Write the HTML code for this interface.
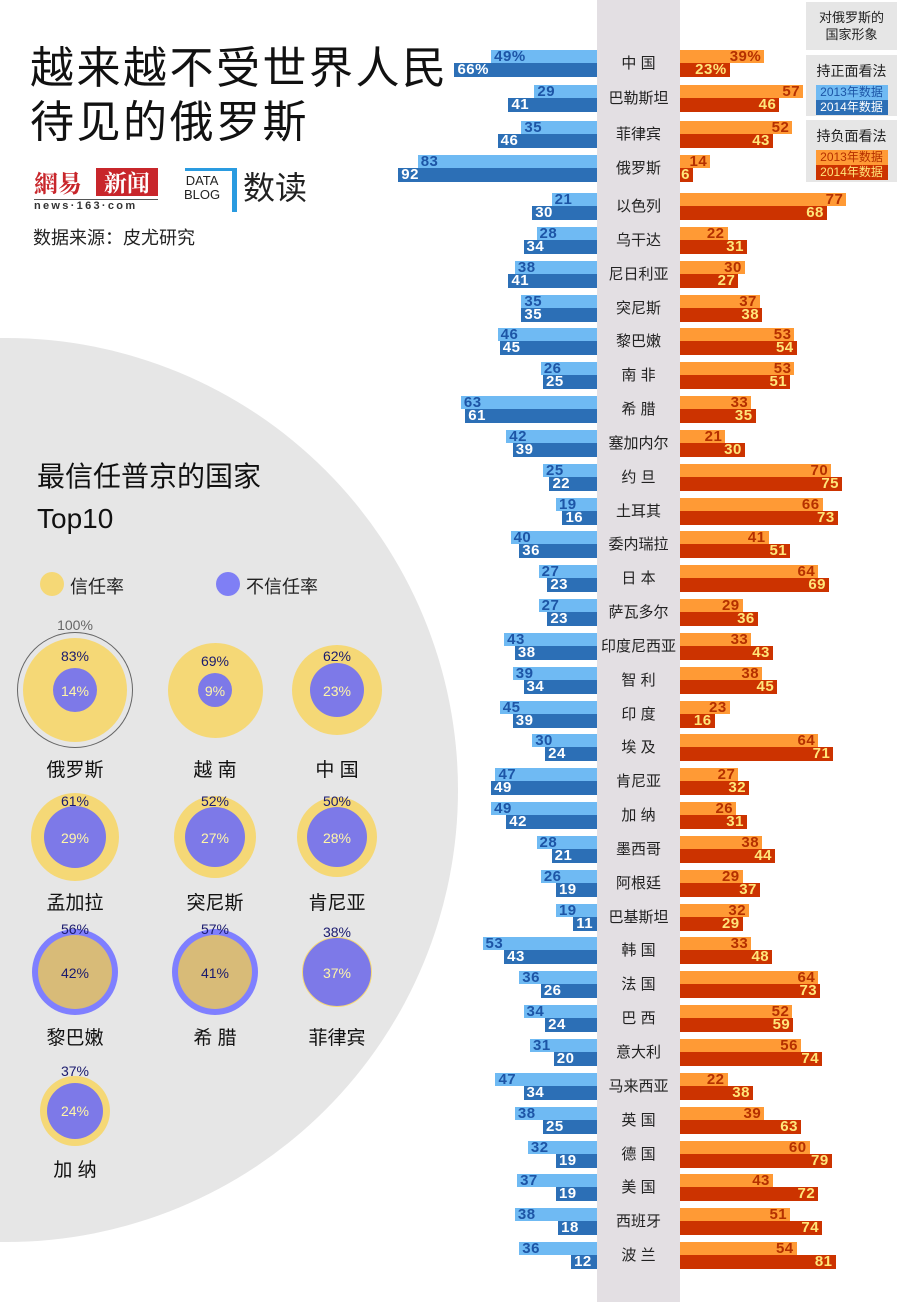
<!DOCTYPE html>
<html><head><meta charset="utf-8">
<style>
*{margin:0;padding:0;box-sizing:border-box}
body{width:908px;height:1302px;position:relative;background:#fff;overflow:hidden;font-family:"Liberation Sans","Noto Sans CJK SC",sans-serif}
.abs{position:absolute}
#bigc{position:absolute;left:-446px;top:338px;width:904px;height:904px;border-radius:50%;background:#e6e6e6}
#col{position:absolute;left:597px;top:0;width:83px;height:1302px;background:#e3dfe3}
.r{position:absolute;left:0;width:908px;height:27px}
.r i{position:absolute;font-style:normal;font-weight:bold;font-size:15px;line-height:14px;letter-spacing:0.5px;white-space:nowrap;font-family:"Liberation Sans",sans-serif}
.la{left:calc(597px - var(--v)*2.16px);width:calc(var(--v)*2.16px);top:0;height:13px;background:#6fbaf3;color:#1d55a6;padding-left:3px}
.lb{left:calc(597px - var(--v)*2.16px);width:calc(var(--v)*2.16px);top:13px;height:14px;background:#2c6fb6;color:#fff;padding-left:3px}
.ra{left:680px;width:calc(var(--v)*2.16px);top:0;height:13px;background:#ff9a35;color:#b53000;text-align:right;padding-right:3px}
.rb{left:680px;width:calc(var(--v)*2.16px);top:13px;height:14px;background:#cc3300;color:#ffe67a;text-align:right;padding-right:3px}
.rc{left:680px;width:calc(var(--v)*1.92px);top:13px;height:14px;background:#cc3300;color:#ffe67a;text-align:right;padding-right:3px}
.r b{position:absolute;left:597px;width:83px;top:0;height:27px;line-height:27px;text-align:center;font-weight:normal;font-size:15px;color:#222;font-family:"Liberation Sans","Noto Sans CJK SC",sans-serif}
.box{position:absolute;left:806px;width:91px;background:#e6e6e6;text-align:center;font-size:13px;color:#222}
.chip{display:block;margin:0 auto;width:72px;font-size:12px;line-height:15px}
.c{position:absolute;border-radius:50%}
.pt{position:absolute;font-size:14px;width:80px;text-align:center;line-height:14px}
.nm{position:absolute;font-size:19px;width:110px;text-align:center;color:#111}
</style></head><body>
<div id="bigc"></div>
<div id="col"></div>

<div class="abs" style="left:30px;top:42px;font-size:44px;line-height:54px;color:#111;letter-spacing:2.5px">越来越不受世界人民<br>待见的俄罗斯</div>

<div class="abs" style="left:34px;top:168px;font-size:24px;line-height:28px;color:#c8262b;font-weight:bold;font-family:'Noto Serif CJK SC',serif">網易</div>
<div class="abs" style="left:96px;top:168px;width:62px;height:28px;background:#c8262b;color:#fff;font-size:23px;line-height:28px;text-align:center;font-weight:bold;font-family:'Noto Serif CJK SC',serif">新闻</div>
<div class="abs" style="left:34px;top:199px;width:124px;border-top:1px solid #555;font-size:11px;font-weight:bold;letter-spacing:2.3px;color:#333">news·163·com</div>
<div class="abs" style="left:184px;top:174px;font-size:13px;line-height:14px;color:#222;text-align:center">DATA<br>BLOG</div>
<div class="abs" style="left:185px;top:168px;width:50px;height:3px;background:#2a9be0"></div>
<div class="abs" style="left:232px;top:168px;width:5px;height:44px;background:#2a9be0"></div>
<div class="abs" style="left:243px;top:168px;font-size:32px;line-height:40px;color:#222">数读</div>
<div class="abs" style="left:33px;top:224px;font-size:18px;color:#222">数据来源：皮尤研究</div>

<div class="abs" style="left:37px;top:456px;font-size:28px;line-height:42px;color:#111">最信任普京的国家<br><span style="font-family:'Liberation Sans',sans-serif">Top10</span></div>
<div class="c" style="left:40px;top:572px;width:24px;height:24px;background:#f5d876"></div>
<div class="abs" style="left:70px;top:573px;font-size:18px;color:#222">信任率</div>
<div class="c" style="left:216px;top:572px;width:24px;height:24px;background:#7f7ff5"></div>
<div class="abs" style="left:246px;top:573px;font-size:18px;color:#222">不信任率</div>

<div class="c" style="left:17px;top:632px;width:116px;height:116px;border:1px solid #666"></div>
<div class="pt" style="left:35px;top:618px;color:#666">100%</div>
<div class="c" style="left:23px;top:638px;width:104px;height:104px;background:#f5d876"></div>
<div class="c" style="left:53px;top:668px;width:44px;height:44px;background:#7d79e8"></div>
<div class="pt" style="left:35px;top:649px;color:#1a1a6e">83%</div>
<div class="pt" style="left:35px;top:684px;color:#fff6a8">14%</div>
<div class="nm" style="left:20px;top:755px">俄罗斯</div>

<div class="c" style="left:168px;top:643px;width:95px;height:95px;background:#f5d876"></div>
<div class="c" style="left:198px;top:673px;width:34px;height:34px;background:#7d79e8"></div>
<div class="pt" style="left:175px;top:654px;color:#1a1a6e">69%</div>
<div class="pt" style="left:175px;top:684px;color:#fff6a8">9%</div>
<div class="nm" style="left:160px;top:755px">越 南</div>

<div class="c" style="left:292px;top:645px;width:90px;height:90px;background:#f5d876"></div>
<div class="c" style="left:310px;top:663px;width:54px;height:54px;background:#7d79e8"></div>
<div class="pt" style="left:297px;top:649px;color:#1a1a6e">62%</div>
<div class="pt" style="left:297px;top:684px;color:#fff6a8">23%</div>
<div class="nm" style="left:282px;top:755px">中 国</div>

<div class="c" style="left:31px;top:793px;width:88px;height:88px;background:#f5d876"></div>
<div class="c" style="left:44px;top:806px;width:62px;height:62px;background:#7d79e8"></div>
<div class="pt" style="left:35px;top:794px;color:#1a1a6e">61%</div>
<div class="pt" style="left:35px;top:831px;color:#fff6a8">29%</div>
<div class="nm" style="left:20px;top:888px">孟加拉</div>

<div class="c" style="left:174px;top:796px;width:82px;height:82px;background:#f5d876"></div>
<div class="c" style="left:185px;top:807px;width:60px;height:60px;background:#7d79e8"></div>
<div class="pt" style="left:175px;top:794px;color:#1a1a6e">52%</div>
<div class="pt" style="left:175px;top:831px;color:#fff6a8">27%</div>
<div class="nm" style="left:160px;top:888px">突尼斯</div>

<div class="c" style="left:297px;top:797px;width:80px;height:80px;background:#f5d876"></div>
<div class="c" style="left:307px;top:807px;width:60px;height:60px;background:#7d79e8"></div>
<div class="pt" style="left:297px;top:794px;color:#1a1a6e">50%</div>
<div class="pt" style="left:297px;top:831px;color:#fff6a8">28%</div>
<div class="nm" style="left:282px;top:888px">肯尼亚</div>

<div class="c" style="left:32px;top:929px;width:86px;height:86px;background:#7f7fff"></div>
<div class="c" style="left:38px;top:935px;width:74px;height:74px;background:#d8bb78"></div>
<div class="pt" style="left:35px;top:922px;color:#1a1a6e">56%</div>
<div class="pt" style="left:35px;top:966px;color:#1a1a6e">42%</div>
<div class="nm" style="left:20px;top:1023px">黎巴嫩</div>

<div class="c" style="left:172px;top:929px;width:86px;height:86px;background:#7f7fff"></div>
<div class="c" style="left:178px;top:935px;width:74px;height:74px;background:#d8bb78"></div>
<div class="pt" style="left:175px;top:922px;color:#1a1a6e">57%</div>
<div class="pt" style="left:175px;top:966px;color:#1a1a6e">41%</div>
<div class="nm" style="left:160px;top:1023px">希 腊</div>

<div class="c" style="left:302px;top:937px;width:70px;height:70px;background:#7d79e8;border:1px solid #f5d876"></div>
<div class="pt" style="left:297px;top:925px;color:#1a1a6e">38%</div>
<div class="pt" style="left:297px;top:966px;color:#fff6a8">37%</div>
<div class="nm" style="left:282px;top:1023px">菲律宾</div>

<div class="c" style="left:40px;top:1076px;width:70px;height:70px;background:#f5d876"></div>
<div class="c" style="left:47px;top:1083px;width:56px;height:56px;background:#7d79e8"></div>
<div class="pt" style="left:35px;top:1064px;color:#1a1a6e">37%</div>
<div class="pt" style="left:35px;top:1104px;color:#fff6a8">24%</div>
<div class="nm" style="left:20px;top:1155px">加 纳</div>

<div class="box" style="top:2px;height:48px;padding-top:7px;line-height:17px">对俄罗斯的<br>国家形象</div>
<div class="box" style="top:55px;height:61px;padding-top:6px"><div style="font-size:14px;line-height:20px">持正面看法</div><span class="chip" style="background:#6fbaf3;color:#1d55a6;margin-top:4px">2013年数据</span><span class="chip" style="background:#2c6fb6;color:#fff">2014年数据</span></div>
<div class="box" style="top:120px;height:62px;padding-top:6px"><div style="font-size:14px;line-height:20px">持负面看法</div><span class="chip" style="background:#ff9a35;color:#b53000;margin-top:4px">2013年数据</span><span class="chip" style="background:#cc3300;color:#ffe67a">2014年数据</span></div>

<div class="r" style="top:50px"><i class="la" style="--v:49">49%</i><i class="lb" style="--v:66">66%</i><b>中 国</b><i class="ra" style="--v:39">39%</i><i class="rb" style="--v:23">23%</i></div>
<div class="r" style="top:85px"><i class="la" style="--v:29">29</i><i class="lb" style="--v:41">41</i><b>巴勒斯坦</b><i class="ra" style="--v:57">57</i><i class="rb" style="--v:46">46</i></div>
<div class="r" style="top:121px"><i class="la" style="--v:35">35</i><i class="lb" style="--v:46">46</i><b>菲律宾</b><i class="ra" style="--v:52">52</i><i class="rb" style="--v:43">43</i></div>
<div class="r" style="top:155px"><i class="la" style="--v:83">83</i><i class="lb" style="--v:92">92</i><b>俄罗斯</b><i class="ra" style="--v:14">14</i><i class="rb" style="--v:6">6</i></div>
<div class="r" style="top:193px"><i class="la" style="--v:21">21</i><i class="lb" style="--v:30">30</i><b>以色列</b><i class="ra" style="--v:77">77</i><i class="rb" style="--v:68">68</i></div>
<div class="r" style="top:227px"><i class="la" style="--v:28">28</i><i class="lb" style="--v:34">34</i><b>乌干达</b><i class="ra" style="--v:22">22</i><i class="rb" style="--v:31">31</i></div>
<div class="r" style="top:261px"><i class="la" style="--v:38">38</i><i class="lb" style="--v:41">41</i><b>尼日利亚</b><i class="ra" style="--v:30">30</i><i class="rb" style="--v:27">27</i></div>
<div class="r" style="top:295px"><i class="la" style="--v:35">35</i><i class="lb" style="--v:35">35</i><b>突尼斯</b><i class="ra" style="--v:37">37</i><i class="rb" style="--v:38">38</i></div>
<div class="r" style="top:328px"><i class="la" style="--v:46">46</i><i class="lb" style="--v:45">45</i><b>黎巴嫩</b><i class="ra" style="--v:53">53</i><i class="rb" style="--v:54">54</i></div>
<div class="r" style="top:362px"><i class="la" style="--v:26">26</i><i class="lb" style="--v:25">25</i><b>南 非</b><i class="ra" style="--v:53">53</i><i class="rb" style="--v:51">51</i></div>
<div class="r" style="top:396px"><i class="la" style="--v:63">63</i><i class="lb" style="--v:61">61</i><b>希 腊</b><i class="ra" style="--v:33">33</i><i class="rb" style="--v:35">35</i></div>
<div class="r" style="top:430px"><i class="la" style="--v:42">42</i><i class="lb" style="--v:39">39</i><b>塞加内尔</b><i class="ra" style="--v:21">21</i><i class="rb" style="--v:30">30</i></div>
<div class="r" style="top:464px"><i class="la" style="--v:25">25</i><i class="lb" style="--v:22">22</i><b>约 旦</b><i class="ra" style="--v:70">70</i><i class="rb" style="--v:75">75</i></div>
<div class="r" style="top:498px"><i class="la" style="--v:19">19</i><i class="lb" style="--v:16">16</i><b>土耳其</b><i class="ra" style="--v:66">66</i><i class="rb" style="--v:73">73</i></div>
<div class="r" style="top:531px"><i class="la" style="--v:40">40</i><i class="lb" style="--v:36">36</i><b>委内瑞拉</b><i class="ra" style="--v:41">41</i><i class="rb" style="--v:51">51</i></div>
<div class="r" style="top:565px"><i class="la" style="--v:27">27</i><i class="lb" style="--v:23">23</i><b>日 本</b><i class="ra" style="--v:64">64</i><i class="rb" style="--v:69">69</i></div>
<div class="r" style="top:599px"><i class="la" style="--v:27">27</i><i class="lb" style="--v:23">23</i><b>萨瓦多尔</b><i class="ra" style="--v:29">29</i><i class="rb" style="--v:36">36</i></div>
<div class="r" style="top:633px"><i class="la" style="--v:43">43</i><i class="lb" style="--v:38">38</i><b>印度尼西亚</b><i class="ra" style="--v:33">33</i><i class="rb" style="--v:43">43</i></div>
<div class="r" style="top:667px"><i class="la" style="--v:39">39</i><i class="lb" style="--v:34">34</i><b>智 利</b><i class="ra" style="--v:38">38</i><i class="rb" style="--v:45">45</i></div>
<div class="r" style="top:701px"><i class="la" style="--v:45">45</i><i class="lb" style="--v:39">39</i><b>印 度</b><i class="ra" style="--v:23">23</i><i class="rb" style="--v:16">16</i></div>
<div class="r" style="top:734px"><i class="la" style="--v:30">30</i><i class="lb" style="--v:24">24</i><b>埃 及</b><i class="ra" style="--v:64">64</i><i class="rb" style="--v:71">71</i></div>
<div class="r" style="top:768px"><i class="la" style="--v:47">47</i><i class="lb" style="--v:49">49</i><b>肯尼亚</b><i class="ra" style="--v:27">27</i><i class="rb" style="--v:32">32</i></div>
<div class="r" style="top:802px"><i class="la" style="--v:49">49</i><i class="lb" style="--v:42">42</i><b>加 纳</b><i class="ra" style="--v:26">26</i><i class="rb" style="--v:31">31</i></div>
<div class="r" style="top:836px"><i class="la" style="--v:28">28</i><i class="lb" style="--v:21">21</i><b>墨西哥</b><i class="ra" style="--v:38">38</i><i class="rb" style="--v:44">44</i></div>
<div class="r" style="top:870px"><i class="la" style="--v:26">26</i><i class="lb" style="--v:19">19</i><b>阿根廷</b><i class="ra" style="--v:29">29</i><i class="rb" style="--v:37">37</i></div>
<div class="r" style="top:904px"><i class="la" style="--v:19">19</i><i class="lb" style="--v:11">11</i><b>巴基斯坦</b><i class="ra" style="--v:32">32</i><i class="rb" style="--v:29">29</i></div>
<div class="r" style="top:937px"><i class="la" style="--v:53">53</i><i class="lb" style="--v:43">43</i><b>韩 国</b><i class="ra" style="--v:33">33</i><i class="rc" style="--v:48">48</i></div>
<div class="r" style="top:971px"><i class="la" style="--v:36">36</i><i class="lb" style="--v:26">26</i><b>法 国</b><i class="ra" style="--v:64">64</i><i class="rc" style="--v:73">73</i></div>
<div class="r" style="top:1005px"><i class="la" style="--v:34">34</i><i class="lb" style="--v:24">24</i><b>巴 西</b><i class="ra" style="--v:52">52</i><i class="rc" style="--v:59">59</i></div>
<div class="r" style="top:1039px"><i class="la" style="--v:31">31</i><i class="lb" style="--v:20">20</i><b>意大利</b><i class="ra" style="--v:56">56</i><i class="rc" style="--v:74">74</i></div>
<div class="r" style="top:1073px"><i class="la" style="--v:47">47</i><i class="lb" style="--v:34">34</i><b>马来西亚</b><i class="ra" style="--v:22">22</i><i class="rc" style="--v:38">38</i></div>
<div class="r" style="top:1107px"><i class="la" style="--v:38">38</i><i class="lb" style="--v:25">25</i><b>英 国</b><i class="ra" style="--v:39">39</i><i class="rc" style="--v:63">63</i></div>
<div class="r" style="top:1141px"><i class="la" style="--v:32">32</i><i class="lb" style="--v:19">19</i><b>德 国</b><i class="ra" style="--v:60">60</i><i class="rc" style="--v:79">79</i></div>
<div class="r" style="top:1174px"><i class="la" style="--v:37">37</i><i class="lb" style="--v:19">19</i><b>美 国</b><i class="ra" style="--v:43">43</i><i class="rc" style="--v:72">72</i></div>
<div class="r" style="top:1208px"><i class="la" style="--v:38">38</i><i class="lb" style="--v:18">18</i><b>西班牙</b><i class="ra" style="--v:51">51</i><i class="rc" style="--v:74">74</i></div>
<div class="r" style="top:1242px"><i class="la" style="--v:36">36</i><i class="lb" style="--v:12">12</i><b>波 兰</b><i class="ra" style="--v:54">54</i><i class="rc" style="--v:81">81</i></div>
</body></html>
